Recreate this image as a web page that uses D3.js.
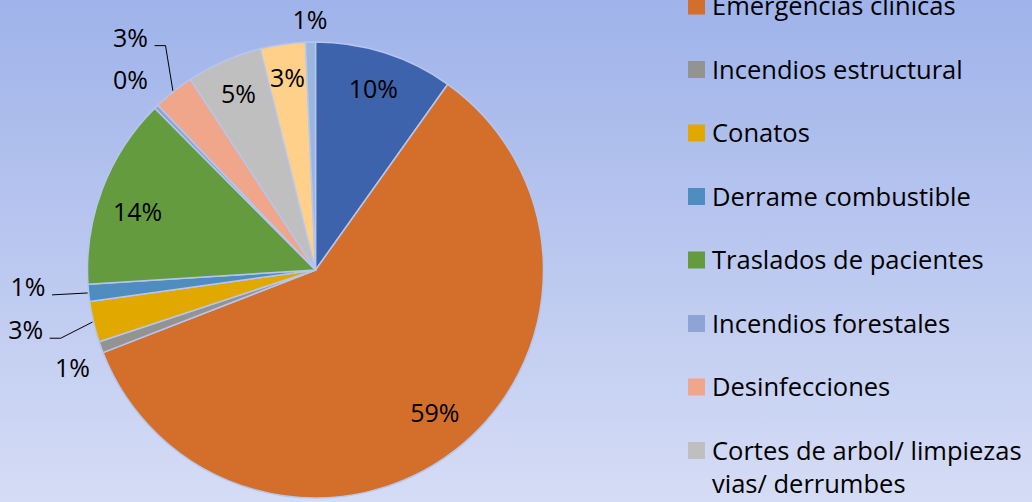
<!DOCTYPE html>
<html>
<head>
<meta charset="utf-8">
<script src="https://cdn.jsdelivr.net/npm/d3@7"></script>
<style>
  html, body { margin: 0; padding: 0; overflow: hidden; }
  text { font-family: "Open Sans", Lato, sans-serif; fill: #000; }
</style>
</head>
<body>
<script>
// categories in series order (first and last two are outside the visible legend area)
var categories = [
    "Categoría 1",
    "Emergencias clínicas",
    "Incendios estructural",
    "Conatos",
    "Derrame combustible",
    "Traslados de pacientes",
    "Incendios forestales",
    "Desinfecciones",
    "Cortes de arbol/ limpiezas vias/ derrumbes",
    "Categoría 10",
    "Categoría 11"
];
// share of services (%)
var shares = [9.85, 59.25, 0.8, 2.9, 1.2, 13.55, 0.3, 2.9, 5.35, 3.2, 0.7];
var colors = ["#3c63ac", "#d46f2b", "#939393", "#e1a800", "#4f8cc0", "#649b3f",
              "#8ea4d6", "#f0a68a", "#bfbfbf", "#ffd08a", "#9bb6df"];

// label layout: radius from centre, angle shift (deg) from slice middle, leader line
var labelRadius = [190, 186, 262, 296, 288, 187, 265, 297, 192, 194, 250];
var labelShift  = [0, -2, -2.1, 1.4, 2.4, -2.8, 0, 0, 0, 0, 0];
var labelLeader = [false, false, false, true, true, false, false, true, false, false, false];

var svgWidth = 1032;
var svgHeight = 502;
var cx = 315.5, cy = 270, radius = 228;

var svg = d3.select("body")
    .append("svg")
    .attr("width", svgWidth)
    .attr("height", svgHeight);

// background gradient
var grad = svg.append("defs").append("linearGradient")
    .attr("id", "bg")
    .attr("x1", 0).attr("y1", 0).attr("x2", 0).attr("y2", 1);
grad.append("stop").attr("offset", "0%").attr("stop-color", "#9fb3ea");
grad.append("stop").attr("offset", "100%").attr("stop-color", "#d5dcf5");

svg.append("rect")
    .attr("width", svgWidth)
    .attr("height", svgHeight)
    .attr("fill", "url(#bg)");

var total = d3.sum(shares);
var pct = d3.format(".0%");

var pie = d3.pie().sort(null).value(d => d);
var arcs = pie(shares);
var arc = d3.arc().innerRadius(0).outerRadius(radius);

var pieGroup = svg.append("g")
    .attr("transform", `translate(${cx},${cy})`);

pieGroup.selectAll("path")
    .data(arcs)
    .enter()
    .append("path")
    .attr("d", arc)
    .attr("fill", (d, i) => colors[i])
    .attr("stroke", "#b5c6ef")
    .attr("stroke-width", 1.5)
    .attr("stroke-linejoin", "round");

function polar(angle, r) {
    return [r * Math.sin(angle), -r * Math.cos(angle)];
}
var mid = d => (d.startAngle + d.endAngle) / 2;
var labelPos = (d, i) => polar(mid(d) + labelShift[i] * Math.PI / 180, labelRadius[i]);

// leader lines
arcs.forEach((d, i) => {
    if (!labelLeader[i]) return;
    var p = labelPos(d, i);
    var start = polar(mid(d), radius + 1);
    var endX = p[0] + 24, lineY = p[1] + 8;
    var pts = [start, [endX + 11, lineY], [endX, lineY]];
    if (Math.abs(start[1] - lineY) < 4) pts = [start, [endX, lineY]];
    pieGroup.append("path")
        .attr("d", d3.line()(pts))
        .attr("fill", "none")
        .attr("stroke", "#000")
        .attr("stroke-width", 1);
});

// data labels
pieGroup.selectAll(".lbl")
    .data(arcs)
    .enter()
    .append("text")
    .attr("class", "lbl")
    .attr("x", (d, i) => labelPos(d, i)[0])
    .attr("y", (d, i) => labelPos(d, i)[1])
    .attr("dy", "0.36em")
    .attr("text-anchor", "middle")
    .attr("font-size", 25)
    .text(d => pct(d.value / total));

// legend (rows move down when an entry wraps onto a second line)
var legendX = 688, rowStep = 63.5, lineStep = 33;
var y = -57.5;
var legend = svg.append("g");

categories.forEach((name, i) => {
    var row = legend.append("g").attr("transform", `translate(${legendX},${y})`);
    row.append("rect")
        .attr("x", 0).attr("y", -8.5)
        .attr("width", 17).attr("height", 17)
        .attr("fill", colors[i]);
    var t = row.append("text")
        .attr("x", 24)
        .attr("y", 0)
        .attr("dy", "0.36em")
        .attr("font-size", 25.5);
    var lines = wrap(t, name, 320);
    y += rowStep + (lines - 1) * lineStep;
});

function wrap(textSel, str, width) {
    var words = str.split(" ");
    var line = [];
    var count = 1;
    var tspan = textSel.append("tspan").attr("x", 24);
    words.forEach(w => {
        line.push(w);
        tspan.text(line.join(" "));
        if (tspan.node().getComputedTextLength() > width && line.length > 1) {
            line.pop();
            tspan.text(line.join(" "));
            line = [w];
            count++;
            tspan = textSel.append("tspan").attr("x", 24).attr("dy", lineStep).text(w);
        }
    });
    return count;
}
</script>
</body>
</html>
